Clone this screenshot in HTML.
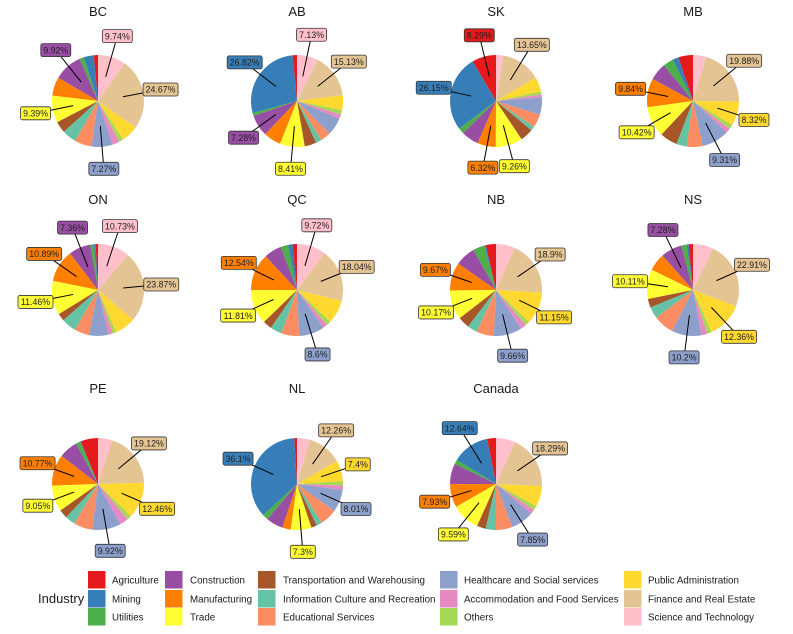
<!DOCTYPE html>
<html><head><meta charset="utf-8">
<style>
html,body{margin:0;padding:0;background:#fff;}
svg{display:block;font-family:"Liberation Sans",sans-serif;}
</style></head>
<body>
<svg id="chart" width="793" height="634" viewBox="0 0 793 634"></svg>
<script>
// Category order (counter-clockwise from 12 o'clock)
const categories = ["Agriculture","Mining","Utilities","Construction","Manufacturing","Trade","Transportation and Warehousing","Information Culture and Recreation","Educational Services","Healthcare and Social services","Accommodation and Food Services","Others","Public Administration","Finance and Real Estate","Science and Technology"];
const regions = ["BC","AB","SK","MB","ON","QC","NB","NS","PE","NL","Canada"];
const valsBC = [1.5,3.5,1.5,9.92,6.5,9.39,4,5,6,7.27,2.5,1.5,6,24.67,9.74];
const valsAB = [1.5,26.82,1,7.28,6,8.41,4,2,3.5,6,1.5,1.5,5,15.13,7.13];
const valsSK = [8.29,26.15,2,6,6.32,9.26,4.5,1.5,4.5,6,1,1,5,13.65,2.5];
const valsMB = [5,2,3.5,6,9.84,10.42,6,3.5,5.5,9.31,1.5,1.5,8.32,19.88,4.5];
const valsON = [0.8,0.6,1.2,7.36,10.89,11.46,2.5,5,5,6.5,1.5,1.2,7,23.87,10.73];
const valsQC = [1.5,1.5,2.5,6,12.54,11.81,3,4,6,8.6,1.5,1.5,8,18.04,9.72];
const valsNB = [3.5,0.5,4,7,9.67,10.17,4,3.5,6,9.66,2,1.5,11.15,18.9,6.5];
const valsNS = [1.5,0.7,1.8,7.28,6,10.11,3,4,7,10.2,2,1.5,12.36,22.91,7];
const valsPE = [6,0.3,1.5,6.5,10.77,9.05,3,3.5,6.5,9.92,3,1.5,12.46,19.12,5];
const valsNL = [1,36.1,2,6,3,7.3,2,2,6,8.01,1.5,1.5,7.4,12.26,4.5];
const valsCA = [3,12.64,1.5,7,7.93,9.59,3,3.5,5.5,7.85,1.5,1.5,7,18.29,6.5];
const allVals = [valsBC,valsAB,valsSK,valsMB,valsON,valsQC,valsNB,valsNS,valsPE,valsNL,valsCA];
// Which categories carry a value label in each region
const labeledBC = [3,5,9,13,14];
const labeledAB = [1,3,5,13,14];
const labeledSK = [0,1,4,5,13];
const labeledMB = [4,5,9,12,13];
const labeledON = [3,4,5,13,14];
const labeledQC = [4,5,9,13,14];
const labeledNB = [4,5,9,12,13];
const labeledNS = [3,5,9,12,13];
const labeledPE = [4,5,9,12,13];
const labeledNL = [1,5,9,12,13];
const labeledCA = [1,4,5,9,13];
const allLabeled = [labeledBC,labeledAB,labeledSK,labeledMB,labeledON,labeledQC,labeledNB,labeledNS,labeledPE,labeledNL,labeledCA];

const colors = ["#E41A1C","#377EB8","#4DAF4A","#984EA3","#FF7F00","#FFFF33","#A65628","#66C2A5","#FC8D62","#8DA0CB","#E78AC3","#A6D854","#FFD92F","#E5C494","#FFC0CB"];
const NS = "http://www.w3.org/2000/svg";
const svg = document.getElementById("chart");
const colX = [98,297,496,693], rowY = [101,290,484], titleY = [16,204,393];
const R = 46;

function mk(tag, attrs, parent){
  const e = document.createElementNS(NS, tag);
  for (const k in attrs) e.setAttribute(k, attrs[k]);
  (parent||svg).appendChild(e);
  return e;
}
function pt(cx, cy, r, frac){ // frac of full turn, counter-clockwise from top
  const a = -frac*2*Math.PI;
  return [cx + r*Math.sin(a), cy - r*Math.cos(a)];
}

regions.forEach((reg, ri) => {
  const vals = allVals[ri];
  const cx = colX[ri%4], cy = rowY[Math.floor(ri/4)];
  const g = mk("g", {});
  
  
  const t = mk("text", {x:cx, y:titleY[Math.floor(ri/4)], "text-anchor":"middle", "font-size":"13", fill:"#1a1a1a"}, g);
  t.textContent = reg;
  
  
  const total = vals.reduce((a,b)=>a+b,0);
  let cum = 0;
  const mids = [];
  vals.forEach((v, i) => {
    const f0 = cum/total, f1 = (cum+v)/total;
    const p0 = pt(cx,cy,R,f0), p1 = pt(cx,cy,R,f1);
    const large = (f1-f0) > 0.5 ? 1 : 0;
    const d = `M${cx},${cy} L${p0[0]},${p0[1]} A${R},${R} 0 ${large} 0 ${p1[0]},${p1[1]} Z`;
    const s = mk("path", {d, fill:colors[i]}, g);
    
    
    mids.push((f0+f1)/2);
    cum += v;
  });
  allLabeled[ri].forEach(i => {
    const m = mids[i];
    const a = pt(cx,cy,R*0.55,m);
    const dx = Math.sin(-m*2*Math.PI), dy = -Math.cos(-m*2*Math.PI);
    const lx = cx + dx*R*1.38, ly = cy + dy*R*1.48;
    mk("line", {x1:a[0], y1:a[1], x2:lx, y2:ly, stroke:"#000", "stroke-width":"1"}, g);
    const txt = String(vals[i]) + "%";
    const w = txt.length*5 + 5, h = 13;
    const b = mk("rect", {x:lx-w/2, y:ly-h/2, width:w, height:h, rx:2, fill:colors[i], stroke:"#333", "stroke-width":"0.8"}, g);
    
    
    const tl = mk("text", {x:lx, y:ly+3.2, "text-anchor":"middle", "font-size":"8.8", fill:"#222"}, g);
    tl.textContent = txt;
    
    
  });
});

// Legend
const lg = mk("g", {});


const lt = mk("text", {x:38, y:603, "font-size":"13", fill:"#1a1a1a"}, lg);
lt.textContent = "Industry";


const keyX = [88,165,258,440,624], textX = [112,190,283,464,648], keyTop = [571,590,608];
categories.forEach((c, i) => {
  const col = Math.floor(i/3), row = i%3;
  const e = mk("g", {}, lg);
  
  
  mk("rect", {x:keyX[col], y:keyTop[row], width:17.5, height:17.5, fill:colors[i]}, e);
  const tx = mk("text", {x:textX[col], y:keyTop[row]+12.5, "font-size":"9.8", fill:"#1a1a1a"}, e);
  tx.textContent = c;
});
</script>
</body></html>
